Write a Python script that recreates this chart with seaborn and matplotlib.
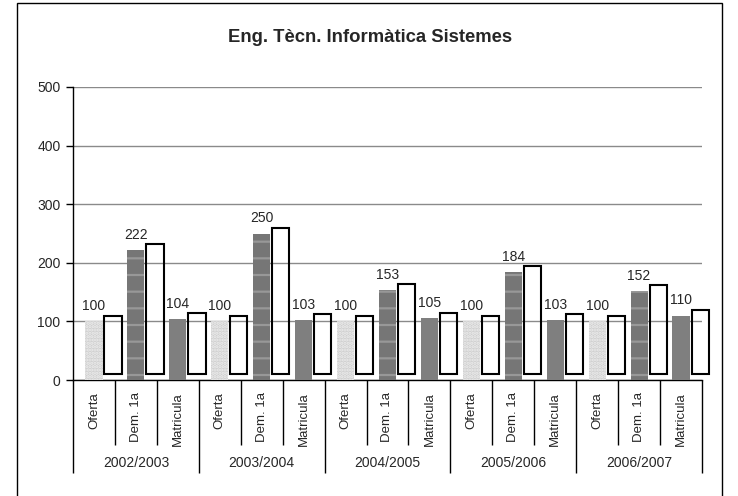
import numpy as np
import pandas as pd
import seaborn as sb
import matplotlib.pyplot as plt
from matplotlib.patches import Rectangle
from matplotlib.transforms import blended_transform_factory

# Chart values
years = ["2002/2003", "2003/2004", "2004/2005", "2005/2006", "2006/2007"]
measures = ["Oferta", "Dem. 1a", "Matricula"]
oferta = [100, 100, 100, 100, 100]
demanda = [222, 250, 153, 184, 152]
matricula = [104, 103, 105, 103, 110]

rows = []
for i, y in enumerate(years):
    for m, vals in zip(measures, [oferta, demanda, matricula]):
        rows.append({"key": y + "|" + m, "year": y, "measure": m, "value": vals[i]})
df = pd.DataFrame(rows)

sb.set_style("white")
plt.rcParams["font.family"] = ["Liberation Sans", "DejaVu Sans"]
plt.rcParams["hatch.linewidth"] = 1.6

fig = plt.figure(figsize=(7.38, 4.96), dpi=100)
ax = fig.add_axes([73 / 738, 1 - 380 / 496, (702 - 73) / 738, (380 - 87) / 496])

bar_w = 0.41
sb.barplot(data=df, x="key", y="value", order=list(df["key"]), color="#808080",
           width=bar_w, ax=ax, zorder=3, errorbar=None)

# patterns for each measure (face colour, hatch, hatch colour)
styles = {"Oferta": ("#cfcfcf", ".....", "#ededed"),
          "Dem. 1a": ("#767676", "-", "#989898"),
          "Matricula": ("#7f7f7f", None, "#7f7f7f")}
bars = sorted(ax.patches, key=lambda p: p.get_x())
for p, m in zip(bars, df["measure"]):
    fc, hatch, hc = styles[m]
    p.set_facecolor(fc)
    p.set_edgecolor(hc)
    p.set_linewidth(0)
    if hatch:
        p.set_hatch(hatch)

# offset white "shadow" boxes next to each bar
pos = np.arange(len(df))
shadows = ax.bar(pos + 0.455, df["value"], bottom=10, width=bar_w, facecolor="none",
                 edgecolor="black", linewidth=1.5, zorder=3)
for b in shadows:
    b.set_clip_on(False)

# value labels
for x, v in zip(pos, df["value"]):
    ax.annotate(str(v), (x, v), xytext=(0, 8), textcoords="offset points",
                ha="center", va="baseline", fontsize=10)

ax.set_ylim(0, 500)
ax.set_xlim(-0.5, len(df) - 0.5)
ax.set_yticks(range(0, 501, 100))
ax.yaxis.grid(True, color="#8a8a8a", linewidth=1)
ax.set_axisbelow(True)
ax.tick_params(axis="y", left=True, length=5, width=1, pad=4, labelsize=10, color="black")
ax.set_xticks([])
ax.set_xlabel("")
ax.set_ylabel("")
for s in ["top", "right"]:
    ax.spines[s].set_visible(False)
for s in ["left", "bottom"]:
    ax.spines[s].set_color("black")
    ax.spines[s].set_linewidth(1)

# multi-level category axis
tr = blended_transform_factory(ax.transData, ax.transAxes)
for x, m in zip(pos, df["measure"]):
    ax.text(x, -0.041, m, rotation=90, ha="center", va="top", fontsize=9.5,
            transform=tr, clip_on=False)
inner = [b for b in np.arange(-0.5, len(df)) if (b + 0.5) % 3 != 0]
outer = [b for b in np.arange(-0.5, len(df)) if (b + 0.5) % 3 == 0]
ax.vlines(inner, -0.222, 0, transform=tr, colors="black", linewidth=1, clip_on=False)
ax.vlines(outer, -0.317, 0, transform=tr, colors="black", linewidth=1, clip_on=False)
for i, y in enumerate(years):
    ax.text(i * 3 + 1, -0.283, y, ha="center", va="center", fontsize=10,
            transform=tr, clip_on=False)

fig.text(370 / 738, 1 - 37 / 496, "Eng. Tècn. Informàtica Sistemes",
         ha="center", va="center", fontsize=13.3, fontweight="bold")
fig.patches.append(Rectangle((17 / 738, -0.02), (722 - 17) / 738, 1.02 - 3 / 496,
                             transform=fig.transFigure, fill=False,
                             edgecolor="black", linewidth=1))

fig.savefig("out.png", dpi=100)
